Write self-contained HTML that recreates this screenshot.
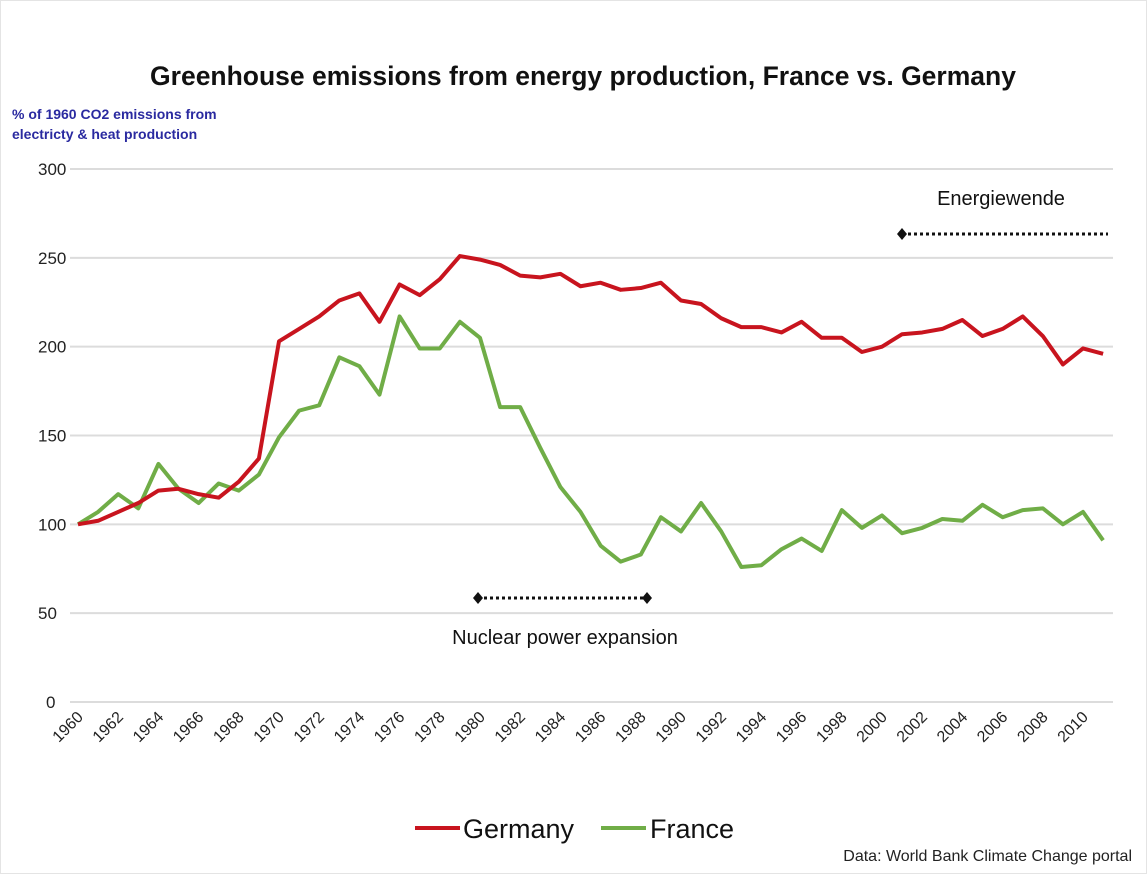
<!DOCTYPE html>
<html><head><meta charset="utf-8">
<style>
body{margin:0;background:#fff;}
svg{display:block;font-family:"Liberation Sans",sans-serif;}
</style></head>
<body>
<svg id="chart" width="1148" height="874" viewBox="0 0 1148 874">
<rect x="0.5" y="0.5" width="1146" height="873" fill="#fff" stroke="#e4e4e4"/>
<text x="583" y="85" text-anchor="middle" font-size="26.5" font-weight="bold" fill="#111">Greenhouse emissions from energy production, France vs. Germany</text>
<text x="12" y="119" font-size="14" font-weight="bold" fill="#2a2aa0">% of 1960 CO2 emissions from</text>
<text x="12" y="139" font-size="14" font-weight="bold" fill="#2a2aa0">electricty &amp; heat production</text>
<g id="grid"></g>
<g id="xlabels"></g>
<g id="lines"></g>
<text x="1001" y="205" text-anchor="middle" font-size="20" fill="#111">Energiewende</text>
<line x1="902" y1="234" x2="1108" y2="234" stroke="#111" stroke-width="3" stroke-dasharray="3,3"/>
<path d="M902 228 L907 234 L902 240 L897 234Z" fill="#111"/>
<line x1="478" y1="598" x2="647" y2="598" stroke="#111" stroke-width="3" stroke-dasharray="3,3"/>
<path d="M478 592 L483 598 L478 604 L473 598Z" fill="#111"/>
<path d="M647 592 L652 598 L647 604 L642 598Z" fill="#111"/>
<text x="565" y="644" text-anchor="middle" font-size="20" fill="#111">Nuclear power expansion</text>
<line x1="415" y1="828" x2="460" y2="828" stroke="#c8141e" stroke-width="4"/>
<text x="463" y="838" font-size="27" fill="#111">Germany</text>
<line x1="601" y1="828" x2="646" y2="828" stroke="#70ad47" stroke-width="4"/>
<text x="650" y="838" font-size="27" fill="#111">France</text>
<text x="1132" y="861" text-anchor="end" font-size="16" fill="#222">Data: World Bank Climate Change portal</text>
</svg>
<script>
const years = [];
for (let y = 1960; y <= 2011; y++) years.push(y);
const germany = [100,102,107,112,119,120,117,115,124,137,203,210,217,226,230,214,235,229,238,251,249,246,240,239,241,234,236,232,233,236,226,224,216,211,211,208,214,205,205,197,200,207,208,210,215,206,210,217,206,190,199,196];
const france = [100,107,117,109,134,120,112,123,119,128,149,164,167,194,189,173,217,199,199,214,205,166,166,143,121,107,88,79,83,104,96,112,96,76,77,86,92,85,108,98,105,95,98,103,102,111,104,108,109,100,107,91];
const yTicks = [0,50,100,150,200,250,300];
const xTickYears = [1960,1962,1964,1966,1968,1970,1972,1974,1976,1978,1980,1982,1984,1986,1988,1990,1992,1994,1996,1998,2000,2002,2004,2006,2008,2010];

const NS = "http://www.w3.org/2000/svg";
const xS = yr => 78 + (yr - 1960) * 20.1;
const yS = v => 702 - v * (533 / 300);

const grid = document.getElementById('grid');
yTicks.forEach(t => {
  const l = document.createElementNS(NS, 'line');
  l.setAttribute('x1', 70); l.setAttribute('x2', 1113);
  l.setAttribute('y1', yS(t)); l.setAttribute('y2', yS(t));
  l.setAttribute('stroke', '#dcdcdc'); l.setAttribute('stroke-width', 2);
  
  
  grid.appendChild(l);
  const tx = document.createElementNS(NS, 'text');
  tx.setAttribute('x', t === 0 ? 46 : 38); tx.setAttribute('y', yS(t) + 6);
  tx.setAttribute('font-size', 17); tx.setAttribute('fill', '#222');
  tx.textContent = t;
  
  
  grid.appendChild(tx);
});

const xl = document.getElementById('xlabels');
xTickYears.forEach(yr => {
  const tx = document.createElementNS(NS, 'text');
  const x = xS(yr) + 6, y = 718;
  tx.setAttribute('x', x); tx.setAttribute('y', y);
  tx.setAttribute('text-anchor', 'end');
  tx.setAttribute('font-size', 16); tx.setAttribute('fill', '#222');
  tx.setAttribute('transform', `rotate(-45 ${x} ${y})`);
  tx.textContent = yr;
  
  
  xl.appendChild(tx);
});

const lines = document.getElementById('lines');
function drawSeries(vals, color, name) {
  const p = document.createElementNS(NS, 'polyline');
  p.setAttribute('points', vals.map((v, i) => xS(years[i]) + ',' + yS(v)).join(' '));
  p.setAttribute('fill', 'none'); p.setAttribute('stroke', color);
  p.setAttribute('stroke-width', 4); p.setAttribute('stroke-linejoin', 'round');
  
  
  lines.appendChild(p);
}
drawSeries(france, '#70ad47', 'france-line');
drawSeries(germany, '#c8141e', 'germany-line');
</script>
</body></html>
